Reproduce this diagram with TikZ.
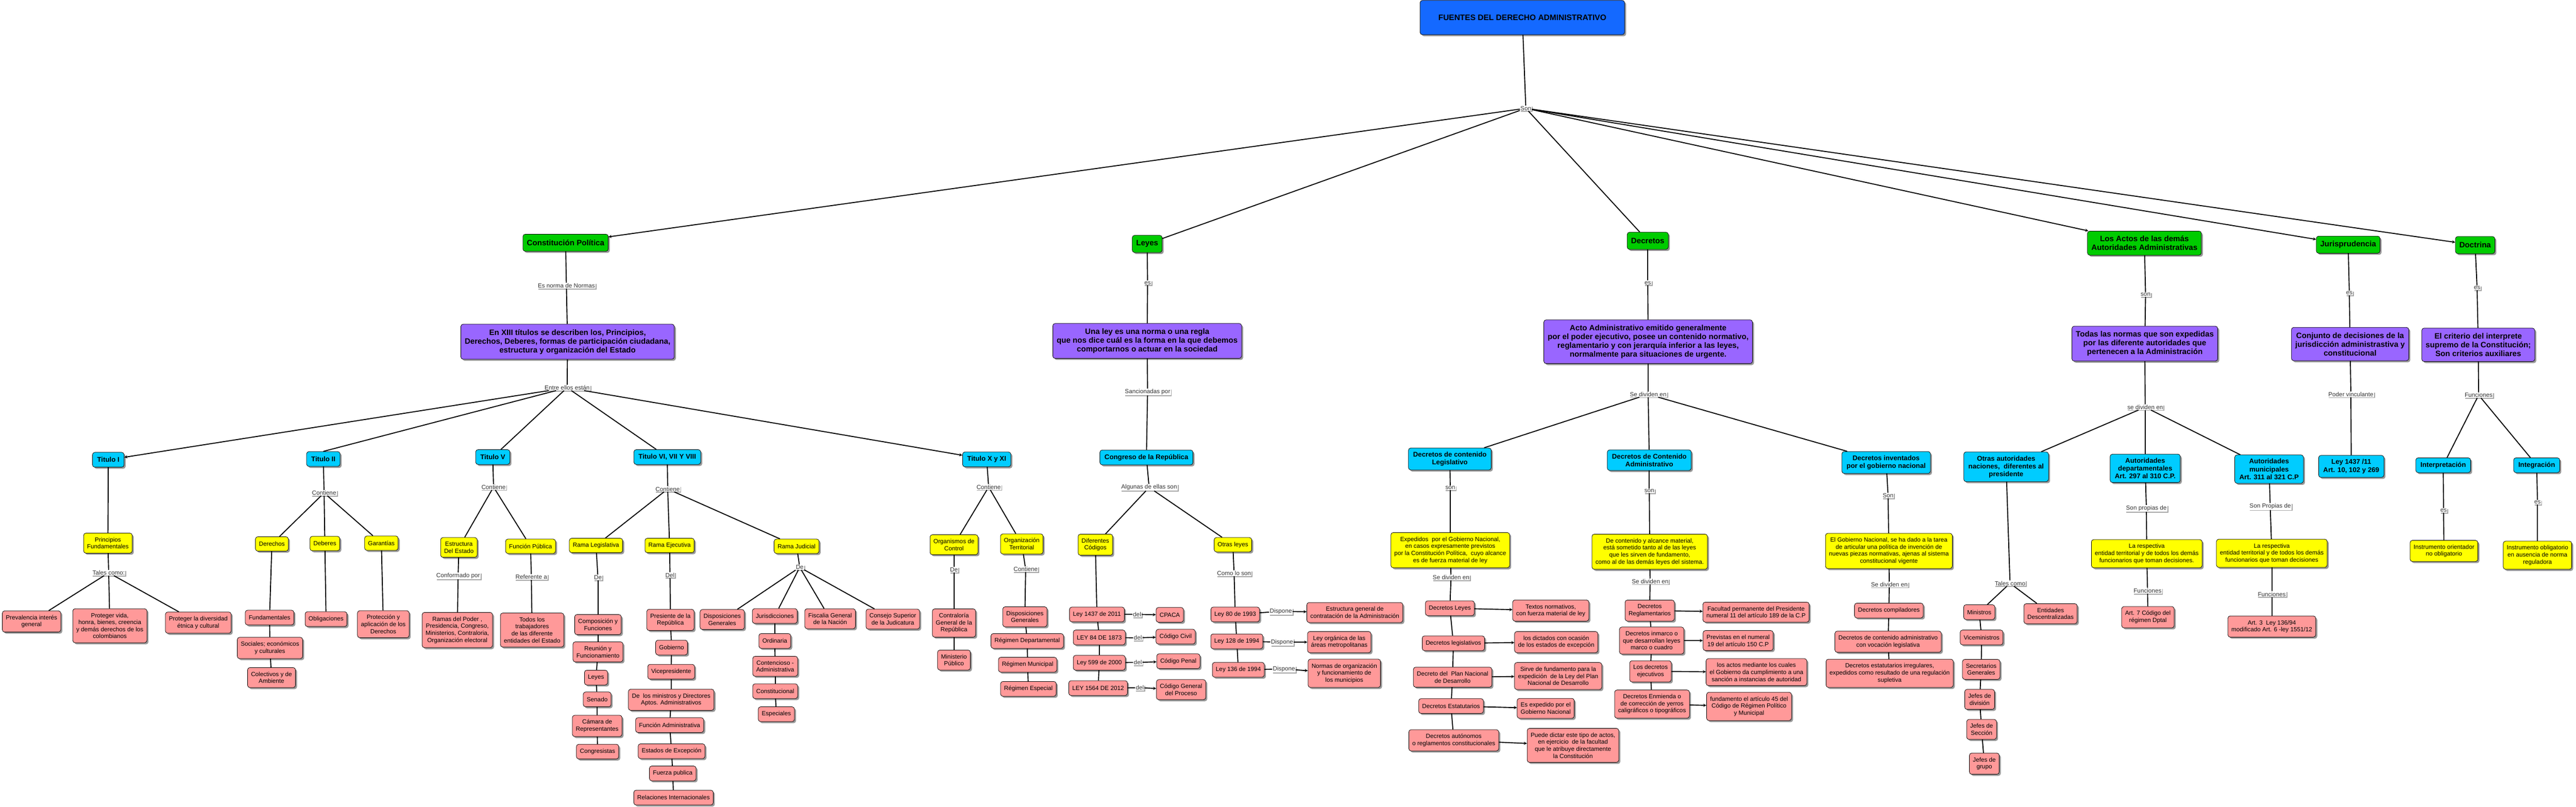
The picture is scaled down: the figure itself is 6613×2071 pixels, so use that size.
\documentclass[tikz,border=0pt]{standalone}
\usepackage{fontspec}
\setmainfont{Liberation Sans}
\usetikzlibrary{arrows, shadows}
\definecolor{headblue}{RGB}{20,105,255}
\definecolor{cmgreen}{RGB}{0,204,0}
\definecolor{cmpurple}{RGB}{153,102,255}
\definecolor{cmcyan}{RGB}{0,204,255}
\definecolor{cmyellow}{RGB}{255,255,0}
\definecolor{cmpink}{RGB}{255,153,153}
\tikzstyle{cshadow} = [drop shadow={shadow xshift=4pt, shadow yshift=-4pt, fill=black!40, opacity=1}]
\tikzstyle{cbox} = [rectangle, rounded corners=6pt, draw=black, line width=1pt, align=center, cshadow]
\tikzstyle{headbox} = [cbox, fill=headblue, font=\fontsize{20.5}{23}\selectfont\bfseries, minimum width=525pt, minimum height=88pt]
\tikzstyle{mainbox} = [cbox, fill=cmgreen, font=\fontsize{20}{23}\selectfont\bfseries, inner xsep=10pt, inner ysep=12pt, minimum height=44pt]
\tikzstyle{defbox} = [cbox, fill=cmpurple, font=\fontsize{20}{22.5}\selectfont\bfseries, inner xsep=10pt, inner ysep=13pt]
\tikzstyle{subbox} = [cbox, fill=cmcyan, font=\fontsize{17.5}{20}\selectfont\bfseries, inner xsep=12pt, inner ysep=10pt, minimum height=38pt]
\tikzstyle{notebox} = [cbox, fill=cmyellow, font=\fontsize{15.5}{18}\selectfont, inner xsep=9pt, inner ysep=11pt, minimum height=37pt]
\tikzstyle{leafbox} = [cbox, fill=cmpink, font=\fontsize{15.5}{18}\selectfont, inner xsep=9pt, inner ysep=11pt, minimum height=38pt]
\tikzstyle{linkbox} = [rectangle, fill=white, text=black!80, font=\fontsize{15.5}{17}\selectfont, inner sep=1.5pt, drop shadow={shadow xshift=2.5pt, shadow yshift=-2.5pt, fill=black!35, opacity=1}]
\tikzstyle{conn} = [line width=2.5pt]
\tikzstyle{arrow} = [conn, ->, >=stealth]

\begin{document}
\begin{tikzpicture}[x=1pt, y=-1pt]
\useasboundingbox (0,0) rectangle (6613,2071);

\node (head) [headbox] at (3908,45) {FUENTES DEL DERECHO ADMINISTRATIVO};
\node (lson) [linkbox] at (3917,278) {Son};

\node (cp) [mainbox] at (1452,623) {Constitución Política};
\node (ley) [mainbox] at (2945,626) {Leyes};
\node (dec) [mainbox] at (4230,618) {Decretos};
\node (act) [mainbox] at (5505,624) {Los Actos de las demás\\Autoridades Administrativas};
\node (jur) [mainbox] at (6028,628) {Jurisprudencia};
\node (doc) [mainbox] at (6354,629) {Doctrina};

\node (lcp) [linkbox] at (1454,733) {Es norma de Normas};
\node (cpdef) [defbox] at (1457,877) {En XIII títulos se describen los, Principios,\\Derechos, Deberes, formas de participación ciudadana,\\estructura y organización del Estado};
\node (lten) [linkbox] at (1456,995) {Entre ellos están};
\node (lley) [linkbox] at (2946,726) {es};
\node (leydef) [defbox] at (2945,875) {Una ley es una norma o una regla\\que nos dice cuál es la forma en la que debemos\\comportarnos o actuar en la sociedad};
\node (lsan) [linkbox] at (2946,1006) {Sancionadas por};
\node (ldec) [linkbox] at (4230,726) {es};
\node (decdef) [defbox] at (4231,877) {Acto Administrativo emitido generalmente\\por el poder ejecutivo, posee un contenido normativo,\\reglamentario y con jerarquía inferior a las leyes,\\normalmente para situaciones de urgente.};
\node (ldiv) [linkbox] at (4231,1012) {Se dividen en};
\node (lact) [linkbox] at (5508,756) {son};
\node (actdef) [defbox] at (5506,882) {Todas las normas que son expedidas\\por las diferente autoridades que\\pertenecen a la Administración};
\node (lactdiv) [linkbox] at (5507,1045) {se dividen en};
\node (ljur) [linkbox] at (6031,752) {es};
\node (jurdef) [defbox] at (6033,883) {Conjunto de decisiones de la\\jurisdicción administrastiva y\\constitucional};
\node (lvin) [linkbox] at (6035,1012) {Poder vinculante};
\node (ldoc) [linkbox] at (6359,739) {es};
\node (docdef) [defbox] at (6362,885) {El criterio del interprete\\supremo de la Constitución;\\Son criterios auxiliares};
\node (lfun) [linkbox] at (6363,1014) {Funciones};

\node (t1) [subbox] at (278,1180) {Titulo I};
\node (pf) [notebox] at (277,1394) {Principios\\Fundamentales};
\node (ltal) [linkbox] at (279,1470) {Tales como:};
\node (pig) [leafbox] at (81,1595) {Prevalencia interés\\general};
\node (pvida) [leafbox] at (282,1606) {Proteger vida,\\honra, bienes, creencia\\y demás derechos de los\\colombianos};
\node (pdiv) [leafbox] at (509,1598) {Proteger la diversidad\\étnica y cultural};

\node (t2) [subbox] at (830,1178) {Titulo II};
\node (lt2) [linkbox] at (832,1265) {Contiene};
\node (der) [notebox] at (698,1396) {Derechos};
\node (deb) [notebox] at (834,1395) {Deberes};
\node (gar) [notebox] at (979,1394) {Garantías};
\node (dfun) [leafbox] at (692,1585) {Fundamentales};
\node (dsoc) [leafbox] at (693,1663) {Sociales; económicos\\y culturales};
\node (dcol) [leafbox] at (697,1739) {Colectivos y de\\Ambiente};
\node (obl) [leafbox] at (837,1589) {Obligaciones};
\node (prot) [leafbox] at (984,1602) {Protección y\\aplicación de los\\Derechos};

\node (t5) [subbox] at (1265,1173) {Titulo V};
\node (lt5) [linkbox] at (1267,1250) {Contiene};
\node (est) [notebox] at (1178,1405) {Estructura\\Del Estado};
\node (lconf) [linkbox] at (1176,1478) {Conformado por};
\node (ramas) [leafbox] at (1174,1617) {Ramas del Poder ,\\Presidencia, Congreso,\\Ministerios, Contraloria,\\Organización electoral};
\node (fpub) [notebox] at (1362,1402) {Función Pública};
\node (lref) [linkbox] at (1364,1481) {Referente a};
\node (trab) [leafbox] at (1366,1617) {Todos los\\trabajadores\\de las diferente\\entidades del Estado};

\node (t6) [subbox] at (1713,1173) {Titulo VI, VII Y VIII};
\node (lt6) [linkbox] at (1714,1255) {Contiene};
\node (rleg) [notebox] at (1530,1400) {Rama Legislativa};
\node (reje) [notebox] at (1719,1400) {Rama Ejecutiva};
\node (rjud) [notebox] at (2045,1402) {Rama Judicial};
\node (lleg) [linkbox] at (1535,1482) {De};
\node (comp) [leafbox] at (1535,1603) {Composición y\\Funciones};
\node (reun) [leafbox] at (1535,1673) {Reunión y\\Funcionamiento};
\node (lyes) [leafbox] at (1530,1739) {Leyes};
\node (sen) [leafbox] at (1533,1795) {Senado};
\node (cam) [leafbox] at (1533,1863) {Cámara de\\Representantes};
\node (cong) [leafbox] at (1534,1929) {Congresistas};
\node (leje) [linkbox] at (1720,1476) {Del};
\node (pres) [leafbox] at (1721,1591) {Presiente de la\\República};
\node (gob) [leafbox] at (1724,1662) {Gobierno};
\node (vice) [leafbox] at (1723,1724) {Vicepresidente};
\node (mins) [leafbox] at (1723,1796) {De \ los ministros y Directores\\Aptos. Administrativos};
\node (fadm) [leafbox] at (1719,1861) {Función Administrativa};
\node (exc) [leafbox] at (1724,1928) {Estados de Excepción};
\node (fza) [leafbox] at (1727,1985) {Fuerza publica};
\node (rint) [leafbox] at (1729,2047) {Relaciones Internacionales};
\node (ljud) [linkbox] at (2053,1456) {De};
\node (dgen) [leafbox] at (1854,1590) {Disposiciones\\Generales};
\node (juris) [leafbox] at (1989,1581) {Jurisdicciones};
\node (ord) [leafbox] at (1989,1645) {Ordinaria};
\node (cont) [leafbox] at (1990,1710) {Contencioso -\\Administrativa};
\node (const) [leafbox] at (1990,1774) {Constitucional};
\node (esp) [leafbox] at (1993,1833) {Especiales};
\node (fisc) [leafbox] at (2131,1588) {Fiscalia General\\de la Nación};
\node (csj) [leafbox] at (2292,1589) {Consejo Superior\\de la Judicatura};

\node (t10) [subbox] at (2533,1179) {Titulo X y XI};
\node (lt10) [linkbox] at (2538,1250) {Contiene};
\node (orgc) [notebox] at (2449,1398) {Organismos de\\Control};
\node (orgt) [notebox] at (2623,1396) {Organización\\Territorial};
\node (lorgc) [linkbox] at (2449,1462) {De};
\node (contr) [leafbox] at (2449,1599) {Contraloría\\General de la\\República};
\node (mpub) [leafbox] at (2449,1694) {Ministerio\\Público};
\node (lorgt) [linkbox] at (2633,1461) {Contiene};
\node (dgen2) [leafbox] at (2631,1583) {Disposiciones\\Generales};
\node (rdep) [leafbox] at (2637,1645) {Régimen Departamental};
\node (rmun) [leafbox] at (2638,1706) {Régimen Municipal};
\node (resp) [leafbox] at (2640,1768) {Régimen Especial};

\node (congr) [subbox] at (2943,1174) {Congreso de la República};
\node (lalg) [linkbox] at (2950,1251) {Algunas de ellas son};
\node (cods) [notebox] at (2812,1398) {Diferentes\\Códigos};
\node (otras) [notebox] at (3165,1398) {Otras leyes};
\node (l1437) [leafbox] at (2816,1577) {Ley 1437 de 2011};
\node (l84) [leafbox] at (2822,1636) {LEY 84 DE 1873};
\node (l599) [leafbox] at (2822,1701) {Ley 599 de 2000};
\node (l1564) [leafbox] at (2819,1766) {LEY 1564 DE 2012};
\node (ldel1) [linkbox] at (2919,1577) {del};
\node (ldel2) [linkbox] at (2921,1637) {del};
\node (ldel3) [linkbox] at (2921,1700) {del};
\node (ldel4) [linkbox] at (2926,1765) {del};
\node (cpaca) [leafbox] at (3003,1578) {CPACA};
\node (cciv) [leafbox] at (3018,1634) {Código Civil};
\node (cpen) [leafbox] at (3025,1697) {Código Penal};
\node (cgp) [leafbox] at (3032,1770) {Código General\\del Proceso};
\node (lcomo) [linkbox] at (3168,1471) {Como lo son};
\node (l80) [leafbox] at (3171,1577) {Ley 80 de 1993};
\node (l128) [leafbox] at (3175,1646) {Ley 128 de 1994};
\node (l136) [leafbox] at (3179,1719) {Ley 136 de 1994};
\node (ldis1) [linkbox] at (3288,1569) {Dispone};
\node (ldis2) [linkbox] at (3291,1648) {Dispone};
\node (ldis3) [linkbox] at (3296,1717) {Dispone};
\node (contra) [leafbox] at (3478,1572) {Estructura general de\\contratación de la Administración};
\node (amet) [leafbox] at (3438,1648) {Ley orgánica de las\\áreas metropolitanas};
\node (nmun) [leafbox] at (3451,1728) {Normas de organización\\y funcionamiento de\\los municipios};

\node (dleg) [subbox] at (3722,1178) {Decretos de contenido\\Legislativo};
\node (ldleg) [linkbox] at (3723,1252) {son};
\node (dlegdef) [notebox] at (3723,1412) {Expedidos \ por el Gobierno Nacional,\\en casos expresamente previstos\\por la Constitución Política, \ cuyo alcance\\es de fuerza material de ley};
\node (ldlegdiv) [linkbox] at (3725,1482) {Se dividen en};
\node (dly) [leafbox] at (3722,1561) {Decretos Leyes};
\node (dlg) [leafbox] at (3731,1651) {Decretos legislativos};
\node (dpnd) [leafbox] at (3729,1738) {Decreto del \ Plan Nacional\\de Desarrollo};
\node (dest) [leafbox] at (3725,1812) {Decretos Estatutarios};
\node (daut) [leafbox] at (3732,1900) {Decretos autónomos\\o reglamentos constitucionales};
\node (txt) [leafbox] at (3981,1567) {Textos normativos,\\con fuerza material de ley};
\node (dict) [leafbox] at (3995,1648) {los dictados con ocasión\\de los estados de excepción};
\node (sirve) [leafbox] at (4000,1735) {Sirve de fundamento para la\\expedición \ de la Ley del Plan\\Nacional de Desarrollo};
\node (expg) [leafbox] at (3968,1818) {Es expedido por el\\Gobierno Nacional};
\node (pued) [leafbox] at (4038,1913) {Puede dictar este tipo de actos,\\en ejercicio \ de la facultad\\que le atribuye directamente\\la Constitución};

\node (dadm) [subbox] at (4234,1181) {Decretos de Contenido\\Administrativo};
\node (ldadm) [linkbox] at (4234,1260) {son};
\node (dadmdef) [notebox] at (4235,1416) {De contenido y alcance material,\\está sometido tanto al de las leyes\\que les sirven de fundamento,\\como al de las demás leyes del sistema.};
\node (ldadmdiv) [linkbox] at (4236,1492) {Se dividen en};
\node (dreg) [leafbox] at (4235,1567) {Decretos\\Reglamentarios};
\node (dmar) [leafbox] at (4240,1644) {Decretos inmarco o\\que desarrollan leyes\\marco o cuadro};
\node (deje) [leafbox] at (4237,1723) {Los decretos\\ejecutivos};
\node (denm) [leafbox] at (4241,1807) {Decretos Enmienda o\\de corrección de yerros\\caligráficos o tipográficos};
\node (facu) [leafbox] at (4508,1571) {Facultad permanente del Presidente\\numeral 11 del artículo 189 de la C.P};
\node (prev) [leafbox] at (4462,1644) {Previstas en el numeral\\19 del artículo 150 C.P};
\node (actm) [leafbox] at (4509,1725) {los actos mediante los cuales\\el Gobierno da cumplimiento a una\\sanción a instancias de autoridad};
\node (fund) [leafbox] at (4490,1813) {fundamento el artículo 45 del\\Código de Régimen Político\\y Municipal};

\node (dinv) [subbox] at (4842,1187) {Decretos inventados\\por el gobierno nacional};
\node (ldinv) [linkbox] at (4847,1272) {Son};
\node (dinvdef) [notebox] at (4849,1414) {El Gobierno Nacional, se ha dado a la tarea\\de articular una política de invención de\\nuevas piezas normativas, ajenas al sistema\\constitucional vigente};
\node (ldinvdiv) [linkbox] at (4850,1500) {Se dividen en};
\node (dcomp) [leafbox] at (4849,1567) {Decretos compiladores};
\node (dcva) [leafbox] at (4847,1647) {Decretos de contenido administrativo\\con vocación legislativa};
\node (deir) [leafbox] at (4851,1728) {Decretos estatutarios irregulares,\\expedidos como resultado de una regulación\\supletiva};

\node (otra) [subbox] at (5150,1198) {Otras autoridades\\naciones, \ diferentes al\\presidente};
\node (ltal2) [linkbox] at (5160,1497) {Tales como};
\node (mins2) [leafbox] at (5081,1571) {Ministros};
\node (ent) [leafbox] at (5264,1575) {Entidades\\Descentralizadas};
\node (vmin) [leafbox] at (5087,1636) {Viceministros};
\node (secg) [leafbox] at (5086,1718) {Secretarios\\Generales};
\node (jdiv) [leafbox] at (5082,1795) {Jefes de\\división};
\node (jsec) [leafbox] at (5087,1872) {Jefes de\\Sección};
\node (jgru) [leafbox] at (5094,1960) {Jefes de\\grupo};

\node (adep) [subbox] at (5507,1202) {Autoridades\\departamentales\\Art. 297 al 310 C.P.};
\node (ladep) [linkbox] at (5510,1305) {Son propias de};
\node (adepdef) [notebox] at (5511,1421) {La respectiva\\entidad territorial y de todos los demás\\funcionarios que toman decisiones.};
\node (ladepf) [linkbox] at (5513,1516) {Funciones};
\node (art7) [leafbox] at (5514,1584) {Art. 7 Código del\\régimen Dptal};

\node (amun) [subbox] at (5825,1204) {Autoridades\\municipales\\Art. 311 al 321 C.P};
\node (lamun) [linkbox] at (5828,1300) {Son Propias de};
\node (amundef) [notebox] at (5832,1420) {La respectiva\\entidad territorial y de todos los demás\\funcionarios que toman decisiones};
\node (lamunf) [linkbox] at (5832,1525) {Funciones};
\node (art3) [leafbox] at (5832,1608) {Art. 3 \ Ley 136/94\\modificado Art. 6 -ley 1551/12};

\node (l1437b) [subbox] at (6036,1197) {Ley 1437 /11\\Art. 10, 102 y 269};
\node (interp) [subbox] at (6272,1194) {Interpretación};
\node (integ) [subbox] at (6512,1194) {Integración};
\node (linterp) [linkbox] at (6273,1310) {es};
\node (linteg) [linkbox] at (6514,1289) {es};
\node (orient) [notebox] at (6274,1414) {Instrumento orientador\\no obligatorio};
\node (oblig) [notebox] at (6514,1425) {Instrumento obligatorio\\en ausencia de norma\\reguladora};

\draw [conn] (head) -- (lson);
\draw [arrow] (lson) -- (cp);
\draw [conn] (lson) -- (ley);
\draw [conn] (lson) -- (dec);
\draw [arrow] (lson) -- (act);
\draw [arrow] (lson) -- (jur);
\draw [arrow] (lson) -- (doc);

\draw [conn] (cp) -- (lcp);
\draw [conn] (lcp) -- (cpdef);
\draw [conn] (cpdef) -- (lten);
\draw [arrow] (lten) -- (t1);
\draw [conn] (lten) -- (t2.north);
\draw [conn] (lten) -- (t5);
\draw [conn] (lten) -- (t6);
\draw [arrow] (lten) -- (t10);

\draw [conn] (t1) -- (pf);
\draw [conn] (pf) -- (ltal);
\draw [conn] (ltal) -- (pig);
\draw [conn] (ltal) -- (pvida);
\draw [conn] (ltal) -- (pdiv);

\draw [conn] (t2) -- (lt2);
\draw [conn] (lt2) -- (der);
\draw [conn] (lt2) -- (deb);
\draw [conn] (lt2) -- (gar);
\draw [conn] (der) -- (dfun);
\draw [conn] (dfun) -- (dsoc);
\draw [conn] (dsoc) -- (dcol);
\draw [conn] (deb) -- (obl);
\draw [conn] (gar) -- (prot);

\draw [conn] (t5) -- (lt5);
\draw [conn] (lt5) -- (est);
\draw [conn] (lt5) -- (fpub);
\draw [conn] (est) -- (lconf);
\draw [conn] (lconf) -- (ramas);
\draw [conn] (fpub) -- (lref);
\draw [conn] (lref) -- (trab);

\draw [conn] (t6) -- (lt6);
\draw [conn] (lt6) -- (rleg);
\draw [conn] (lt6) -- (reje);
\draw [conn] (lt6) -- (rjud);
\draw [conn] (rleg) -- (lleg);
\draw [conn] (lleg) -- (comp);
\draw [conn] (comp) -- (reun);
\draw [conn] (reun) -- (lyes);
\draw [conn] (lyes) -- (sen);
\draw [conn] (sen) -- (cam);
\draw [conn] (cam) -- (cong);
\draw [conn] (reje) -- (leje);
\draw [conn] (leje) -- (pres);
\draw [conn] (pres) -- (gob);
\draw [conn] (gob) -- (vice);
\draw [conn] (vice) -- (mins);
\draw [conn] (mins) -- (fadm);
\draw [conn] (fadm) -- (exc);
\draw [conn] (exc) -- (fza);
\draw [conn] (fza) -- (rint);
\draw [conn] (rjud) -- (ljud);
\draw [conn] (ljud) -- (dgen);
\draw [conn] (ljud) -- (juris);
\draw [conn] (ljud) -- (fisc);
\draw [conn] (ljud) -- (csj);
\draw [conn] (juris) -- (ord);
\draw [conn] (ord) -- (cont);
\draw [conn] (cont) -- (const);
\draw [conn] (const) -- (esp);

\draw [conn] (t10) -- (lt10);
\draw [conn] (lt10) -- (orgc);
\draw [conn] (lt10) -- (orgt);
\draw [conn] (orgc) -- (lorgc);
\draw [conn] (lorgc) -- (contr);
\draw [conn] (contr) -- (mpub);
\draw [conn] (orgt) -- (lorgt);
\draw [conn] (lorgt) -- (dgen2);
\draw [conn] (dgen2) -- (rdep);
\draw [conn] (rdep) -- (rmun);
\draw [conn] (rmun) -- (resp);

\draw [conn] (ley) -- (lley);
\draw [conn] (lley) -- (leydef);
\draw [conn] (leydef) -- (lsan);
\draw [conn] (lsan) -- (congr);
\draw [conn] (congr) -- (lalg);
\draw [conn] (lalg) -- (cods);
\draw [conn] (lalg) -- (otras);
\draw [conn] (cods) -- (l1437);
\draw [conn] (l1437) -- (l84);
\draw [conn] (l84) -- (l599);
\draw [conn] (l599) -- (l1564);
\draw [conn] (l1437) -- (ldel1);
\draw [arrow] (ldel1) -- (cpaca);
\draw [conn] (l84) -- (ldel2);
\draw [arrow] (ldel2) -- (cciv);
\draw [conn] (l599) -- (ldel3);
\draw [arrow] (ldel3) -- (cpen);
\draw [conn] (l1564) -- (ldel4);
\draw [arrow] (ldel4) -- (cgp);
\draw [conn] (otras) -- (lcomo);
\draw [conn] (lcomo) -- (l80);
\draw [conn] (l80) -- (l128);
\draw [conn] (l128) -- (l136);
\draw [conn] (l80) -- (ldis1);
\draw [arrow] (ldis1) -- (contra);
\draw [conn] (l128) -- (ldis2);
\draw [arrow] (ldis2) -- (amet);
\draw [conn] (l136) -- (ldis3);
\draw [arrow] (ldis3) -- (nmun);

\draw [conn] (dec) -- (ldec);
\draw [conn] (ldec) -- (decdef);
\draw [conn] (decdef) -- (ldiv);
\draw [conn] (ldiv) -- (dleg);
\draw [conn] (ldiv) -- (dadm);
\draw [conn] (ldiv) -- (dinv);
\draw [conn] (dleg) -- (ldleg);
\draw [conn] (ldleg) -- (dlegdef);
\draw [conn] (dlegdef) -- (ldlegdiv);
\draw [conn] (ldlegdiv) -- (dly);
\draw [conn] (dly) -- (dlg);
\draw [conn] (dlg) -- (dpnd);
\draw [conn] (dpnd) -- (dest);
\draw [conn] (dest) -- (daut);
\draw [arrow] (dly) -- (txt);
\draw [arrow] (dlg) -- (dict);
\draw [arrow] (dpnd) -- (sirve);
\draw [arrow] (dest) -- (expg);
\draw [arrow] (daut) -- (pued);
\draw [conn] (dadm) -- (ldadm);
\draw [conn] (ldadm) -- (dadmdef);
\draw [conn] (dadmdef) -- (ldadmdiv);
\draw [conn] (ldadmdiv) -- (dreg);
\draw [conn] (dreg) -- (dmar);
\draw [conn] (dmar) -- (deje);
\draw [conn] (deje) -- (denm);
\draw [arrow] (dreg) -- (facu);
\draw [arrow] (dmar) -- (prev);
\draw [arrow] (deje) -- (actm);
\draw [arrow] (denm) -- (fund);
\draw [conn] (dinv) -- (ldinv);
\draw [conn] (ldinv) -- (dinvdef);
\draw [conn] (dinvdef) -- (ldinvdiv);
\draw [conn] (ldinvdiv) -- (dcomp);
\draw [conn] (dcomp) -- (dcva);
\draw [conn] (dcva) -- (deir);

\draw [conn] (act) -- (lact);
\draw [conn] (lact) -- (actdef);
\draw [conn] (actdef) -- (lactdiv);
\draw [conn] (lactdiv) -- (otra);
\draw [conn] (lactdiv) -- (adep);
\draw [conn] (lactdiv) -- (amun);
\draw [conn] (otra) -- (ltal2);
\draw [conn] (ltal2) -- (mins2);
\draw [conn] (ltal2) -- (ent);
\draw [conn] (mins2) -- (vmin);
\draw [conn] (vmin) -- (secg);
\draw [conn] (secg) -- (jdiv);
\draw [conn] (jdiv) -- (jsec);
\draw [conn] (jsec) -- (jgru);
\draw [conn] (adep) -- (ladep);
\draw [conn] (ladep) -- (adepdef);
\draw [conn] (adepdef) -- (ladepf);
\draw [conn] (ladepf) -- (art7);
\draw [conn] (amun) -- (lamun);
\draw [conn] (lamun) -- (amundef);
\draw [conn] (amundef) -- (lamunf);
\draw [conn] (lamunf) -- (art3);

\draw [conn] (jur) -- (ljur);
\draw [conn] (ljur) -- (jurdef);
\draw [conn] (jurdef) -- (lvin);
\draw [conn] (lvin) -- (l1437b);
\draw [conn] (doc) -- (ldoc);
\draw [conn] (ldoc) -- (docdef);
\draw [conn] (docdef) -- (lfun);
\draw [conn] (lfun) -- (interp);
\draw [conn] (lfun) -- (integ);
\draw [conn] (interp) -- (linterp);
\draw [conn] (linterp) -- (orient);
\draw [conn] (integ) -- (linteg);
\draw [conn] (linteg) -- (oblig);
\end{tikzpicture}
\end{document}
